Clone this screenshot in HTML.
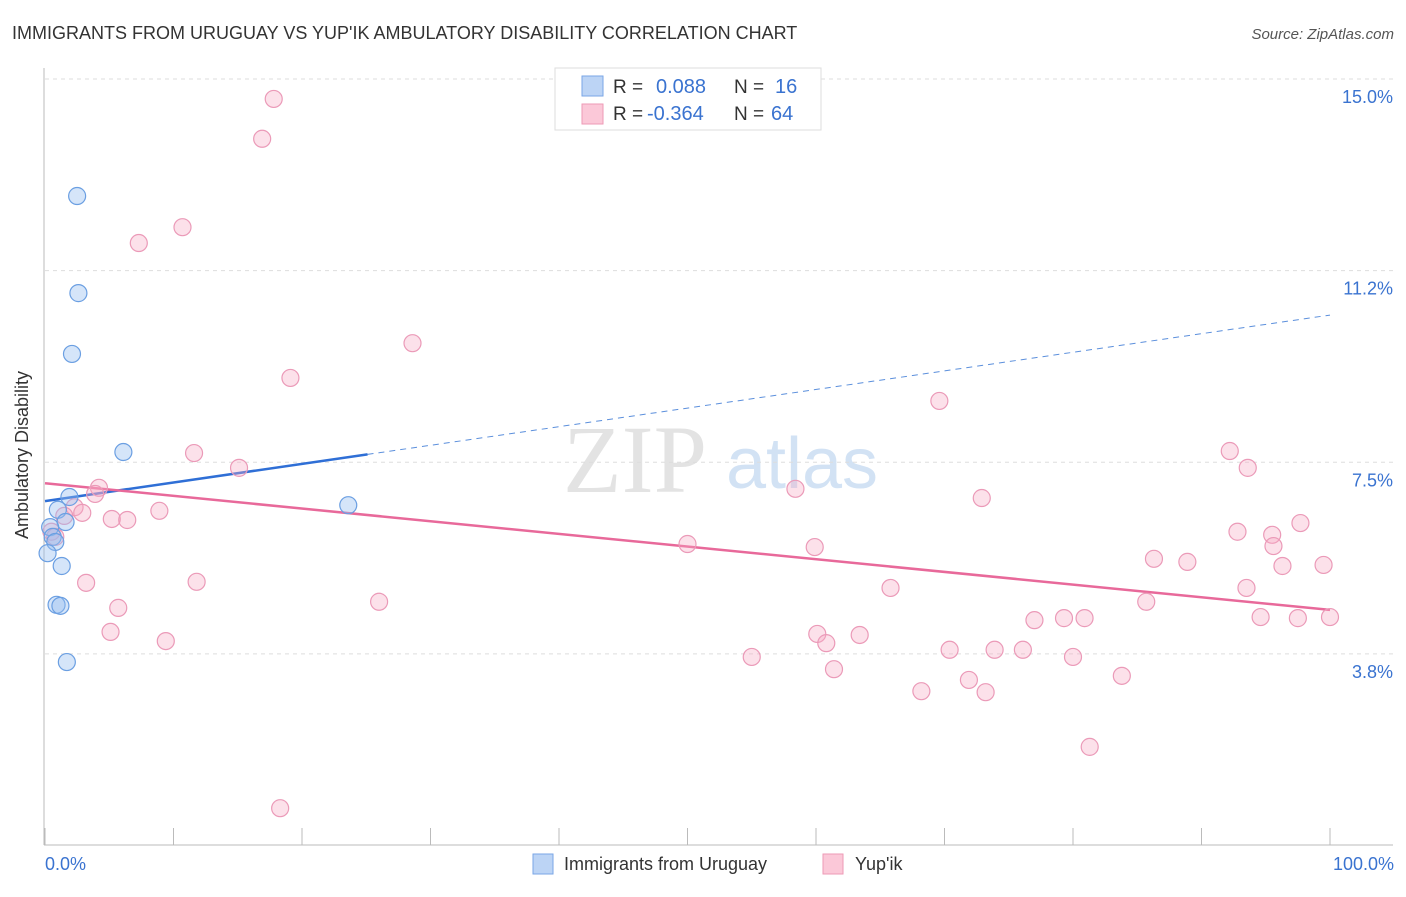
<!DOCTYPE html>
<html><head><meta charset="utf-8"><style>
body{margin:0;background:#fff;font-family:"Liberation Sans",sans-serif;}
</style></head><body>
<svg id="c" width="1406" height="892" xmlns="http://www.w3.org/2000/svg" style="font-family:'Liberation Sans',sans-serif">
<text x="12" y="39" font-size="18" fill="#333">IMMIGRANTS FROM URUGUAY VS YUP'IK AMBULATORY DISABILITY CORRELATION CHART</text>
<text x="1394" y="39" font-size="15" fill="#555" font-style="italic" text-anchor="end">Source: ZipAtlas.com</text>
<g>
<text x="635" y="492" font-size="96" fill="#ddd" font-family="Liberation Serif" text-anchor="middle" opacity="0.8">ZIP</text>
<text x="802" y="488" font-size="72" fill="#c8dcf2" text-anchor="middle" opacity="0.8">atlas</text>
</g>
<g id="grid"></g><g id="axes"></g><g id="trend"></g><g id="pts"></g>
<text x="28" y="455" font-size="18" fill="#333" text-anchor="middle" transform="rotate(-90 28 455)">Ambulatory Disability</text>
<text x="45" y="870" font-size="18" fill="#3a73d0">0.0%</text>
<text x="1394" y="870" font-size="18" fill="#3a73d0" text-anchor="end">100.0%</text>
<g>
<rect x="555" y="68" width="266" height="62" fill="#fff" stroke="#ddd"/>
<rect x="582" y="76" width="21" height="20" fill="#bcd4f5" stroke="#7aa6e6"/>
<rect x="582" y="104" width="21" height="20" fill="#fbc8d8" stroke="#ee9ab6"/>
<text x="613" y="93" font-size="19" fill="#333">R =</text>
<text x="656" y="93" font-size="20" fill="#3a73d0">0.088</text>
<text x="734" y="93" font-size="19" fill="#333">N =</text>
<text x="775" y="93" font-size="20" fill="#3a73d0">16</text>
<text x="613" y="120" font-size="19" fill="#333">R =</text>
<text x="647" y="120" font-size="20" fill="#3a73d0">-0.364</text>
<text x="734" y="120" font-size="19" fill="#333">N =</text>
<text x="771" y="120" font-size="20" fill="#3a73d0">64</text>
</g>
<g>
<rect x="533" y="854" width="20" height="20" fill="#bcd4f5" stroke="#7aa6e6"/>
<text x="564" y="870" font-size="18" fill="#333">Immigrants from Uruguay</text>
<rect x="823" y="854" width="20" height="20" fill="#fbc8d8" stroke="#ee9ab6"/>
<text x="855" y="870" font-size="18" fill="#333">Yup'ik</text>
</g>
</svg>
<script>
const yTicks=[15.0,11.25,7.5,3.75];
const yTickLabels=["15.0%","11.2%","7.5%","3.8%"];
const xTicks=[0,10,20,30,40,50,60,70,80,90,100];
const blueX=[2.5,2.6,2.1,6.1,1.9,1.0,1.6,0.4,0.6,0.8,0.2,1.3,0.9,1.2,1.7,23.6];
const blueY=[12.71,10.81,9.62,7.70,6.82,6.57,6.33,6.23,6.04,5.94,5.72,5.47,4.71,4.69,3.59,6.66];
const pinkX=[17.8,16.9,10.7,7.3,28.6,19.1,69.6,11.6,92.2,93.6,15.1,4.2,3.9,58.4,72.9,2.3,2.9,1.5,8.9,5.2,6.4,92.8,97.7,95.5,95.6,0.5,0.8,50.0,59.9,86.3,88.9,96.3,99.5,3.2,11.8,65.8,93.5,26.0,85.7,5.7,94.6,77.0,79.3,80.9,97.5,100,5.1,60.1,63.4,9.4,60.8,70.4,73.9,76.1,55.0,80.0,61.4,83.8,71.9,68.2,73.2,81.3,18.3];
const pinkY=[14.61,13.83,12.10,11.79,9.83,9.15,8.70,7.68,7.72,7.39,7.39,7.00,6.88,6.98,6.80,6.62,6.51,6.45,6.55,6.39,6.37,6.14,6.31,6.08,5.86,6.14,6.04,5.90,5.84,5.61,5.55,5.47,5.49,5.14,5.16,5.04,5.04,4.77,4.77,4.65,4.47,4.41,4.45,4.45,4.45,4.47,4.18,4.14,4.12,4.00,3.96,3.83,3.83,3.83,3.69,3.69,3.45,3.32,3.24,3.02,3.00,1.93,0.73];
const blueTrend=[6.74,10.38];
const blueSolidEnd=25.1;
const pinkTrend=[7.09,4.61];
const NS="http://www.w3.org/2000/svg";
const X=v=>45+v*12.85;
const Y=v=>79+(15-v)*51.1;
function mk(p,t,a){const e=document.createElementNS(NS,t);for(const k in a)e.setAttribute(k,a[k]);p.appendChild(e);return e;}
const grid=document.getElementById('grid'),axes=document.getElementById('axes'),trend=document.getElementById('trend'),pts=document.getElementById('pts');
yTicks.forEach((t,i)=>{
 const l=mk(grid,'line',{x1:45,x2:1393,y1:Y(t),y2:Y(t),stroke:'#ddd','stroke-dasharray':'4,4'});
 
 
 const tx=mk(grid,'text',{x:1393,y:Y(t)+24,'font-size':18,fill:'#3a73d0','text-anchor':'end'});
 tx.textContent=yTickLabels[i];
 
 
});
const ya=mk(axes,'line',{x1:44,x2:44,y1:68,y2:845,stroke:'#bbb'});


const xa=mk(axes,'line',{x1:44,x2:1393,y1:845,y2:845,stroke:'#bbb'});


xTicks.forEach(t=>{
 const l=mk(axes,'line',{x1:X(t),x2:X(t),y1:828,y2:845,stroke:'#bbb'});
 
 
});
const bs=mk(trend,'line',{x1:X(0),y1:Y(blueTrend[0]),x2:X(blueSolidEnd),y2:Y(blueTrend[0]+(blueTrend[1]-blueTrend[0])*blueSolidEnd/100),stroke:'#2f6fd6','stroke-width':2.5});


const bd=mk(trend,'line',{x1:X(blueSolidEnd),y1:Y(blueTrend[0]+(blueTrend[1]-blueTrend[0])*blueSolidEnd/100),x2:X(100),y2:Y(blueTrend[1]),stroke:'#5b8fdc','stroke-width':1,'stroke-dasharray':'6,5'});


const pl=mk(trend,'line',{x1:X(0),y1:Y(pinkTrend[0]),x2:X(100),y2:Y(pinkTrend[1]),stroke:'#e8699a','stroke-width':2.5});


pinkX.forEach((x,i)=>{
 const c=mk(pts,'circle',{cx:X(x),cy:Y(pinkY[i]),r:8.5,fill:'rgba(246,168,196,0.35)',stroke:'#eb9ab8','stroke-width':1.2});
 
 
});
blueX.forEach((x,i)=>{
 const c=mk(pts,'circle',{cx:X(x),cy:Y(blueY[i]),r:8.5,fill:'rgba(150,190,240,0.4)',stroke:'#6b9fe2','stroke-width':1.2});
 
 
});
</script>
</body></html>
